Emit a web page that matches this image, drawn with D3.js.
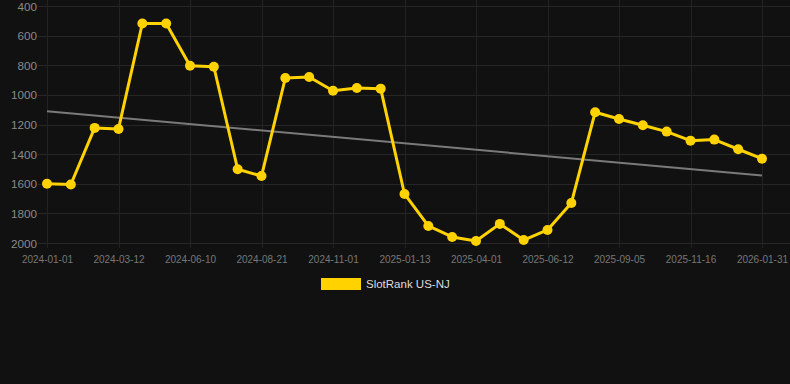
<!DOCTYPE html>
<html>
<head>
<meta charset="utf-8">
<script src="https://cdn.jsdelivr.net/npm/d3@7"></script>
<style>
  html, body { margin: 0; padding: 0; background: #111111; }
  svg { display: block; }
</style>
</head>
<body>
<svg id="chart" width="790" height="384"></svg>
<script>
const categories = [
  "2024-01-01","2024-01-25","2024-02-18","2024-03-12","2024-04-11","2024-05-11",
  "2024-06-10","2024-07-04","2024-07-28","2024-08-21","2024-09-14","2024-10-08",
  "2024-11-01","2024-11-25","2024-12-19","2025-01-13","2025-02-08","2025-03-06",
  "2025-04-01","2025-04-25","2025-05-19","2025-06-12","2025-07-10","2025-08-07",
  "2025-09-05","2025-09-29","2025-10-23","2025-11-16","2025-12-11","2026-01-06",
  "2026-01-31"
];
const rankValues = [
  1600, 1605, 1223, 1230, 518, 518,
  803, 810, 1502, 1548, 886, 879,
  972, 953, 958, 1669, 1885, 1959,
  1986, 1871, 1980, 1912, 1730, 1117,
  1163, 1205, 1248, 1309, 1302, 1367,
  1431
];
const yTicks = [400, 600, 800, 1000, 1200, 1400, 1600, 1800, 2000];
const xTickLabels = categories.filter((d, i) => i % 3 === 0);
const seriesName = "SlotRank US-NJ";

(function () {
const svg = d3.select("#chart");
const W = 790;
const pLeft = 47, pRight = 762, pTop = 6, pBottom = 243;

const x = d3.scalePoint().domain(categories).range([pLeft, pRight]);
const y = d3.scaleLinear().domain([400, 2000]).range([pTop, pBottom]);

// horizontal grid
svg.append("g").selectAll("line").data(yTicks).join("line")
  .attr("x1", 38).attr("x2", W)
  .attr("y1", d => Math.round(y(d)) + 0.5).attr("y2", d => Math.round(y(d)) + 0.5)
  .attr("stroke", "#262626").attr("stroke-width", 1);

// vertical grid
svg.append("g").selectAll("line").data(xTickLabels).join("line")
  .attr("x1", d => Math.round(x(d)) + 0.5).attr("x2", d => Math.round(x(d)) + 0.5)
  .attr("y1", 0).attr("y2", pBottom + 5)
  .attr("stroke", "#222222").attr("stroke-width", 1);

// y axis labels
const yAxis = d3.axisLeft(y).tickValues(yTicks).tickSize(0).tickPadding(0).tickFormat(d3.format("d"));
const gy = svg.append("g").attr("transform", "translate(37,0)").call(yAxis);
gy.select(".domain").remove();
gy.selectAll("text").attr("fill", "#8a8a8a").attr("font-family", "Liberation Sans, Arial, sans-serif")
  .attr("font-size", 11.7).attr("dy", "0.35em");

// x axis labels
const xAxis = d3.axisBottom(x).tickValues(xTickLabels).tickSize(0).tickPadding(0);
const gx = svg.append("g").attr("transform", `translate(0,${pBottom})`).call(xAxis);
gx.select(".domain").remove();
gx.selectAll("text").attr("fill", "#777777").attr("font-family", "Liberation Sans, Arial, sans-serif")
  .attr("font-size", 10).attr("y", 16).attr("dy", "0.35em");

// trend line (least squares)
const n = rankValues.length;
const idx = d3.range(n);
const mx = d3.mean(idx), my = d3.mean(rankValues);
const slope = d3.sum(idx, i => (i - mx) * (rankValues[i] - my)) / d3.sum(idx, i => (i - mx) ** 2);
const intercept = my - slope * mx;
svg.append("line")
  .attr("x1", x(categories[0])).attr("y1", y(intercept))
  .attr("x2", x(categories[n - 1])).attr("y2", y(intercept + slope * (n - 1)))
  .attr("stroke", "#7a7a7a").attr("stroke-width", 2);

// series line
const line = d3.line().x((d, i) => x(categories[i])).y(d => y(d));
svg.append("path").datum(rankValues)
  .attr("d", line).attr("fill", "none")
  .attr("stroke", "#FFD200").attr("stroke-width", 3).attr("stroke-linejoin", "round");

svg.append("g").selectAll("circle").data(rankValues).join("circle")
  .attr("cx", (d, i) => x(categories[i])).attr("cy", d => y(d))
  .attr("r", 5).attr("fill", "#FFD200");

// legend
const lg = svg.append("g");
lg.append("rect").attr("x", 321).attr("y", 278).attr("width", 40).attr("height", 12).attr("fill", "#FFD200");
lg.append("text").attr("x", 366).attr("y", 284).attr("dy", "0.35em")
  .attr("fill", "#dddddd").attr("font-family", "Liberation Sans, Arial, sans-serif").attr("font-size", 11.5)
  .text(seriesName);
})();
</script>
</body>
</html>
